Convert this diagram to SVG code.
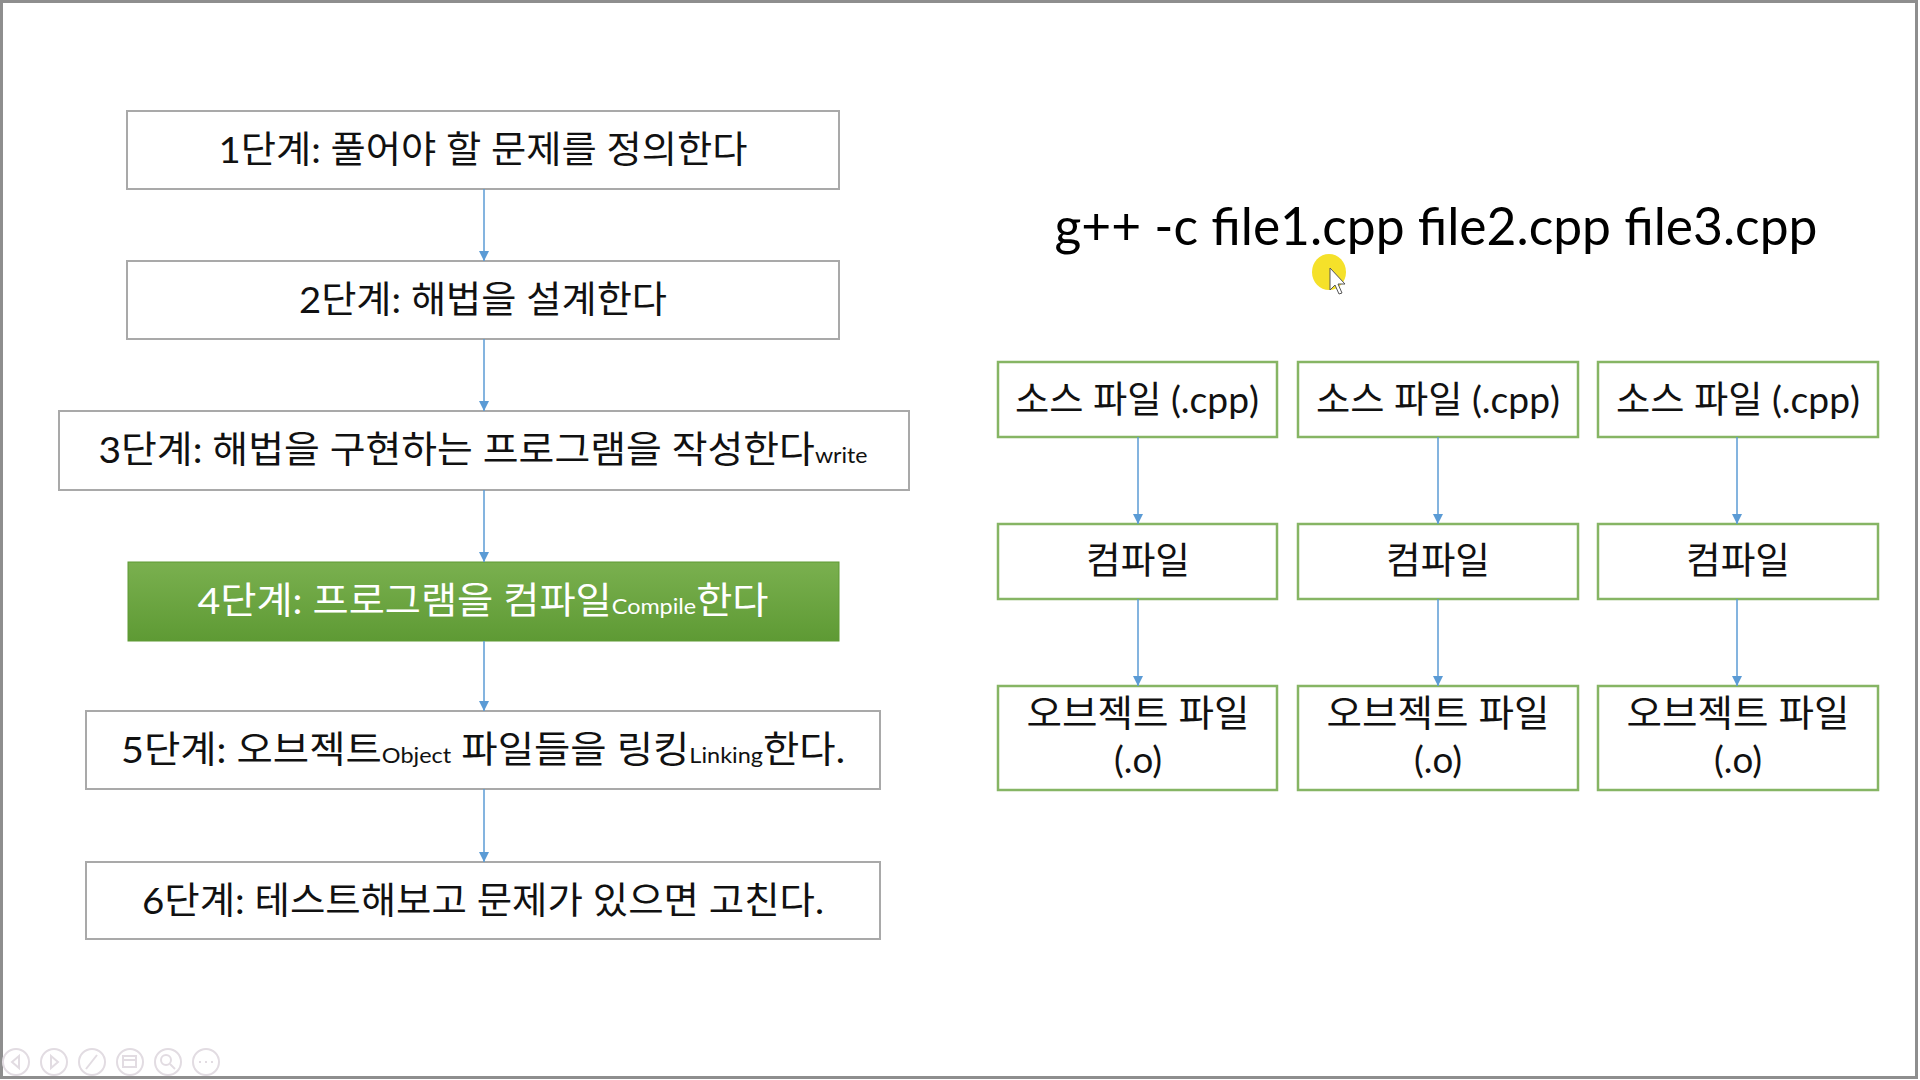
<svg xmlns="http://www.w3.org/2000/svg" width="1920" height="1080" viewBox="0 0 1920 1080">
<defs>
<linearGradient id="green" x1="0" y1="0" x2="0" y2="1">
<stop offset="0" stop-color="#7AB04F"/>
<stop offset="1" stop-color="#5E9A34"/>
</linearGradient>
<marker id="arr" viewBox="0 0 10 10" refX="10" refY="5" markerWidth="10" markerHeight="10" markerUnits="userSpaceOnUse" orient="auto">
<path d="M0,0 L10,5 L0,10 z" fill="#5B9BD5"/>
</marker>
<style>
.lbox{fill:#FFFFFF;stroke:#A9A9A9;stroke-width:2}
.gbox{fill:url(#green);stroke:#5E9A34;stroke-width:1}
.rbox{fill:#FFFFFF;stroke:#86B564;stroke-width:2.5}
.t{font-family:"Lato","Noto Sans CJK KR",sans-serif;font-size:37px;fill:#111111;text-anchor:middle}
.w{fill:#FFFFFF}
.s{font-size:22px}
.title{font-family:"Lato","Noto Sans CJK KR",sans-serif;font-size:53px;fill:#000000;text-anchor:middle}
.conn line{stroke:#5B9BD5;stroke-width:1.5;marker-end:url(#arr)}
.ui *{fill:none;stroke:#E2DCE2;stroke-width:2}
</style>
</defs>
<rect x="0" y="0" width="1920" height="1080" fill="#FFFFFF"/>
<rect x="1.5" y="1.5" width="1915" height="1076" fill="none" stroke="#8E8E8E" stroke-width="3"/>

<g id="step1"><rect class="lbox" x="127" y="111" width="712" height="78"/>
<text class="t" x="483" y="163" textLength="529" lengthAdjust="spacingAndGlyphs">1단계: 풀어야 할 문제를 정의한다</text></g>
<g id="step2"><rect class="lbox" x="127" y="261" width="712" height="78"/>
<text class="t" x="483" y="313" textLength="368" lengthAdjust="spacingAndGlyphs">2단계: 해법을 설계한다</text></g>
<g id="step3"><rect class="lbox" x="59" y="411" width="850" height="79"/>
<text class="t" x="483" y="463" textLength="769" lengthAdjust="spacingAndGlyphs">3단계: 해법을 구현하는 프로그램을 작성한다<tspan class="s">write</tspan></text></g>
<g id="step4"><rect class="gbox" x="128" y="562" width="711" height="79"/>
<text class="t w" x="483" y="614" textLength="571" lengthAdjust="spacingAndGlyphs">4단계: 프로그램을 컴파일<tspan class="s">Compile</tspan>한다</text></g>
<g id="step5"><rect class="lbox" x="86" y="711" width="794" height="78"/>
<text class="t" x="483" y="763" textLength="724" lengthAdjust="spacingAndGlyphs">5단계: 오브젝트<tspan class="s">Object</tspan> 파일들을 링킹<tspan class="s">Linking</tspan>한다.</text></g>
<g id="step6"><rect class="lbox" x="86" y="862" width="794" height="77"/>
<text class="t" x="483" y="914" textLength="682" lengthAdjust="spacingAndGlyphs">6단계: 테스트해보고 문제가 있으면 고친다.</text></g>

<text class="title" x="1436" y="245" textLength="763" lengthAdjust="spacingAndGlyphs">g++ -c file1.cpp file2.cpp file3.cpp</text>

<g id="src1"><rect class="rbox" x="998" y="362" width="279" height="75"/><text class="t" x="1137" y="413" textLength="244" lengthAdjust="spacingAndGlyphs">소스 파일 (.cpp)</text></g>
<g id="src2"><rect class="rbox" x="1298" y="362" width="280" height="75"/><text class="t" x="1438" y="413" textLength="244" lengthAdjust="spacingAndGlyphs">소스 파일 (.cpp)</text></g>
<g id="src3"><rect class="rbox" x="1598" y="362" width="280" height="75"/><text class="t" x="1738" y="413" textLength="244" lengthAdjust="spacingAndGlyphs">소스 파일 (.cpp)</text></g>

<g id="cmp1"><rect class="rbox" x="998" y="524" width="279" height="75"/><text class="t" x="1138" y="574" textLength="104" lengthAdjust="spacingAndGlyphs">컴파일</text></g>
<g id="cmp2"><rect class="rbox" x="1298" y="524" width="280" height="75"/><text class="t" x="1438" y="574" textLength="104" lengthAdjust="spacingAndGlyphs">컴파일</text></g>
<g id="cmp3"><rect class="rbox" x="1598" y="524" width="280" height="75"/><text class="t" x="1738" y="574" textLength="104" lengthAdjust="spacingAndGlyphs">컴파일</text></g>

<g id="obj1"><rect class="rbox" x="998" y="686" width="279" height="104"/><text class="t" x="1138" y="727" textLength="223" lengthAdjust="spacingAndGlyphs">오브젝트 파일</text><text class="t" x="1138" y="773" textLength="48" lengthAdjust="spacingAndGlyphs">(.o)</text></g>
<g id="obj2"><rect class="rbox" x="1298" y="686" width="280" height="104"/><text class="t" x="1438" y="727" textLength="223" lengthAdjust="spacingAndGlyphs">오브젝트 파일</text><text class="t" x="1438" y="773" textLength="48" lengthAdjust="spacingAndGlyphs">(.o)</text></g>
<g id="obj3"><rect class="rbox" x="1598" y="686" width="280" height="104"/><text class="t" x="1738" y="727" textLength="223" lengthAdjust="spacingAndGlyphs">오브젝트 파일</text><text class="t" x="1738" y="773" textLength="48" lengthAdjust="spacingAndGlyphs">(.o)</text></g>

<g id="connectors" class="conn">
<line x1="484" y1="189" x2="484" y2="261"/>
<line x1="484" y1="339" x2="484" y2="411"/>
<line x1="484" y1="490" x2="484" y2="562"/>
<line x1="484" y1="641" x2="484" y2="711"/>
<line x1="484" y1="789" x2="484" y2="862"/>
<line x1="1138" y1="437" x2="1138" y2="524"/>
<line x1="1438" y1="437" x2="1438" y2="524"/>
<line x1="1737" y1="437" x2="1737" y2="524"/>
<line x1="1138" y1="599" x2="1138" y2="686"/>
<line x1="1438" y1="599" x2="1438" y2="686"/>
<line x1="1737" y1="599" x2="1737" y2="686"/>
</g>

<g id="cursor">
<ellipse cx="1329" cy="272" rx="17" ry="18" fill="#F5E12A"/>
<path d="M1330,268 L1330,290 L1335,285 L1339,294 L1342,293 L1338,284 L1345,284 Z" fill="#FFFFFF" stroke="#555555" stroke-width="1"/>
</g>

<g class="ui">
<circle cx="16" cy="1062" r="13"/><path d="M19,1056 L12,1062 L19,1068 Z"/>
<circle cx="54" cy="1062" r="13"/><path d="M51,1056 L58,1062 L51,1068 Z"/>
<circle cx="92" cy="1062" r="13"/><path d="M86,1069 L97,1055"/>
<circle cx="130" cy="1062" r="13"/><rect x="123" y="1056" width="13" height="11"/><path d="M123,1060 L136,1060"/>
<circle cx="168" cy="1062" r="13"/><circle cx="166" cy="1060" r="5"/><path d="M170,1064 L175,1069"/>
<circle cx="206" cy="1062" r="13"/><path d="M199,1062 L201,1062 M205,1062 L207,1062 M211,1062 L213,1062"/>
</g>
</svg>
